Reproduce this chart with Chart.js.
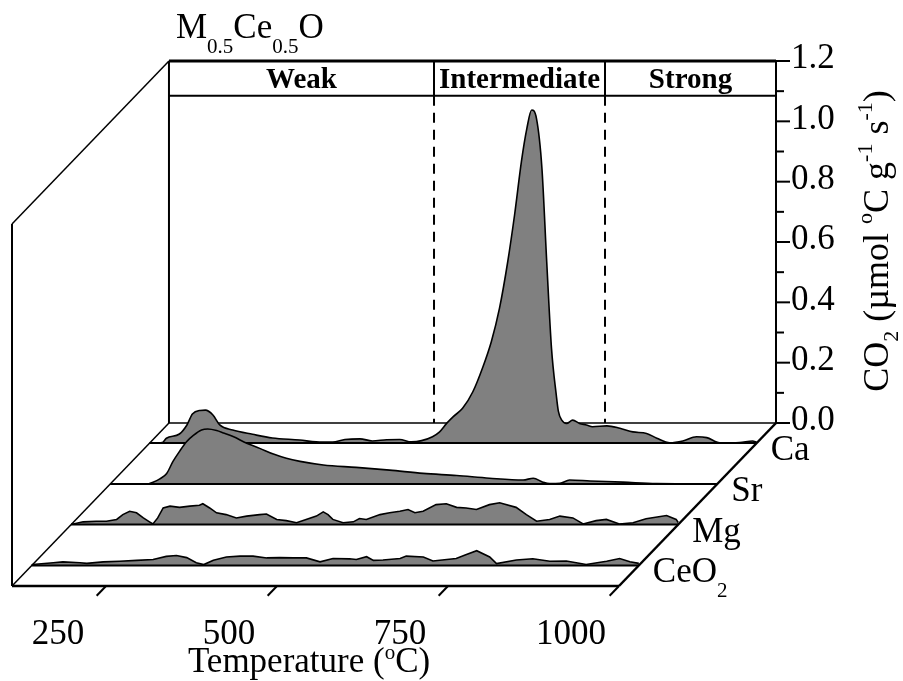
<!DOCTYPE html>
<html>
<head>
<meta charset="utf-8">
<script src="https://cdn.jsdelivr.net/npm/chart.js@4.4.1/dist/chart.umd.min.js"></script>
<style>
  body { margin: 0; background: #fff; }
  #wrap { width: 903px; height: 681px; position: relative; }
</style>
</head>
<body>
<div id="wrap"><canvas id="tpd"></canvas></div>
<script>
// CO2-TPD waterfall, M0.5Ce0.5O samples
const seriesNames = ['Ca', 'Sr', 'Mg', 'CeO2'];   // back row -> front row

const caT = [112.5, 131, 137, 156, 167, 175, 186, 194, 205, 215, 234, 263, 292, 332, 356, 380, 398, 420, 438, 459,
  478, 495, 510, 526, 536, 547, 556, 570, 585, 599, 612, 624, 636, 646, 656, 664, 671, 678, 686, 693,
  700, 707, 710, 715, 722, 731, 741, 751, 760, 781, 800, 819, 839, 854, 873, 892, 912, 927, 946, 975, 994, 1000];
const caV = [0, 0.002, 0.016, 0.03, 0.06, 0.096, 0.108, 0.109, 0.093, 0.06, 0.043, 0.029, 0.017, 0.01, 0.004, 0.003, 0.012, 0.014, 0.007, 0.011,
  0.012, 0.004, 0.008, 0.021, 0.036, 0.066, 0.087, 0.115, 0.17, 0.248, 0.336, 0.447, 0.601, 0.756, 0.933, 1.043, 1.104, 1.076, 0.911, 0.601,
  0.314, 0.159, 0.106, 0.076, 0.065, 0.076, 0.065, 0.06, 0.054, 0.057, 0.049, 0.037, 0.032, 0.016, 0.001, 0.007, 0.021, 0.018, 0.001, 0.002, 0.007, 0.003];

const srT = [112.5, 165, 175, 185, 195, 204, 214, 224, 234, 246, 255, 268, 278, 292, 312, 331, 351, 370, 390, 424,
  472, 521, 570, 619, 667, 716, 731, 745, 755, 770, 784, 814, 862, 911, 1000];
const srV = [0, 0, 0.006, 0.017, 0.035, 0.074, 0.109, 0.14, 0.161, 0.179, 0.182, 0.177, 0.169, 0.157, 0.135, 0.118, 0.099, 0.085, 0.075, 0.063,
  0.055, 0.046, 0.035, 0.028, 0.019, 0.013, 0.019, 0.006, 0.001, 0.002, 0.013, 0.01, 0.006, 0.001, 0];

const mgT = [112.5, 130, 149, 164, 179, 188, 198, 208, 218, 227, 232, 239, 247, 257, 271, 286, 300, 305, 315, 325,
  339, 354, 369, 388, 398, 413, 427, 442, 456, 471, 481, 488, 495, 510, 525, 534, 544, 564, 578, 593,
  605, 615, 627, 646, 661, 676, 690, 705, 724, 739, 744, 763, 778, 793, 812, 827, 846, 861, 880, 895,
  914, 934, 953, 983, 997, 1000];
const mgV = [0, 0.009, 0.011, 0.011, 0.017, 0.033, 0.044, 0.039, 0.022, 0.009, 0.002, 0.022, 0.055, 0.061, 0.057, 0.061, 0.064, 0.069, 0.055, 0.039,
  0.033, 0.022, 0.028, 0.033, 0.035, 0.017, 0.013, 0.006, 0.017, 0.028, 0.042, 0.033, 0.017, 0.006, 0.009, 0.02, 0.017, 0.033, 0.039, 0.044,
  0.05, 0.039, 0.044, 0.066, 0.069, 0.057, 0.055, 0.05, 0.066, 0.072, 0.069, 0.057, 0.033, 0.011, 0.017, 0.028, 0.022, 0.002, 0.013, 0.017,
  0.002, 0.006, 0.019, 0.03, 0.017, 0.007];

const ceT = [112.5, 114, 144, 158, 183, 193, 217, 241, 266, 290, 309, 324, 339, 353, 364, 378, 397, 417, 436, 456,
  475, 495, 514, 534, 553, 577, 587, 602, 612, 626, 651, 660, 685, 699, 733, 748, 763, 782, 792, 821,
  845, 870, 894, 923, 953, 972, 987, 1000];
const ceV = [0, 0.003, 0.009, 0.012, 0.009, 0.007, 0.012, 0.014, 0.017, 0.02, 0.03, 0.033, 0.026, 0.009, 0.003, 0.017, 0.028, 0.031, 0.031, 0.025,
  0.026, 0.025, 0.025, 0.012, 0.023, 0.022, 0.02, 0.029, 0.017, 0.018, 0.023, 0.031, 0.028, 0.015, 0.023, 0.036, 0.049, 0.028, 0.006, 0.018,
  0.022, 0.014, 0.015, 0.003, 0.014, 0.023, 0.012, 0.007];

const xTicks = [250, 500, 750, 1000];
const yTicks = [0, 0.2, 0.4, 0.6, 0.8, 1.0, 1.2];
const regionNames = ['Weak', 'Intermediate', 'Strong'];
const regionEdges = [500, 750];

// geometry of the pseudo-3D box, in data units
const T_MIN = 112.5, T_MAX = 1000, V_MAX = 1.2;
const HEADER_V = 1.085;
const DEPTH_T = 229.5, DEPTH_V = 0.5403;       // shift from back wall to front edge
const layerDepth = [0.123, 0.374, 0.623, 0.874];

const SERIF = '"Liberation Serif", "Times New Roman", serif';
const font = (size, bold) => (bold ? 'bold ' : '') + size + 'px ' + SERIF;

const seriesT = [caT, srT, mgT, ceT];
const seriesV = [caV, srV, mgV, ceV];

const datasets = [];
seriesNames.forEach((name, i) => {
  const sT = layerDepth[i] * DEPTH_T, sV = layerDepth[i] * DEPTH_V;
  datasets.push({
    label: name + ' floor',
    data: [{ x: T_MIN - sT, y: -sV }, { x: T_MAX - sT, y: -sV }],
    borderColor: '#000', borderWidth: 2, fill: false,
    order: 20 - 2 * i
  });
  datasets.push({
    label: name,
    data: seriesT[i].map((t, j) => ({ x: t - sT, y: seriesV[i][j] - sV })),
    borderColor: '#000', borderWidth: 1.6,
    backgroundColor: '#808080',
    fill: { value: -sV },
    cubicInterpolationMode: i < 2 ? 'monotone' : 'default',
    tension: 0,
    order: 21 - 2 * i
  });
});

// point of the box: temperature, value, depth (0 = back wall, 1 = front edge)
function pt(chart, t, v, f) {
  return [chart.scales.x.getPixelForValue(t - f * DEPTH_T),
          chart.scales.y.getPixelForValue(v - f * DEPTH_V)];
}
function line(ctx, a, b, w, dash) {
  ctx.beginPath();
  ctx.lineWidth = w;
  ctx.setLineDash(dash || []);
  ctx.moveTo(a[0], a[1]);
  ctx.lineTo(b[0], b[1]);
  ctx.stroke();
  ctx.setLineDash([]);
}
function richText(ctx, parts, x, y, align) {
  let w = 0;
  parts.forEach(p => { ctx.font = p.font; w += ctx.measureText(p.t).width; });
  let cx = align === 'center' ? x - w / 2 : x;
  ctx.textAlign = 'left';
  ctx.textBaseline = 'alphabetic';
  parts.forEach(p => {
    ctx.font = p.font;
    ctx.fillText(p.t, cx, y + (p.dy || 0));
    cx += ctx.measureText(p.t).width;
  });
}

const boxPlugin = {
  id: 'box',
  beforeDatasetsDraw(chart) {
    const ctx = chart.ctx;
    ctx.save();
    ctx.strokeStyle = '#000';
    ctx.fillStyle = '#000';
    // back wall
    line(ctx, pt(chart, T_MIN, 0, 0), pt(chart, T_MAX, 0, 0), 1.5);
    line(ctx, pt(chart, T_MIN, 0, 0), pt(chart, T_MIN, V_MAX, 0), 2);
    line(ctx, pt(chart, T_MIN, V_MAX, 0), pt(chart, T_MAX, V_MAX, 0), 3);
    line(ctx, pt(chart, T_MIN, HEADER_V, 0), pt(chart, T_MAX, HEADER_V, 0), 2);
    regionEdges.forEach(t => {
      line(ctx, pt(chart, t, V_MAX, 0), pt(chart, t, HEADER_V, 0), 2);
      line(ctx, pt(chart, t, HEADER_V, 0), pt(chart, t, 0, 0), 2, [10, 7]);
    });
    // region captions
    const bounds = [T_MIN, ...regionEdges, T_MAX];
    ctx.font = font(29, true);
    ctx.textAlign = 'center';
    ctx.textBaseline = 'alphabetic';
    regionNames.forEach((n, i) => {
      const a = pt(chart, bounds[i], HEADER_V, 0), b = pt(chart, bounds[i + 1], HEADER_V, 0);
      ctx.fillText(n, (a[0] + b[0]) / 2, a[1] - 8);
    });
    // right value axis
    line(ctx, pt(chart, T_MAX, 0, 0), pt(chart, T_MAX, V_MAX, 0), 2);
    ctx.font = font(35);
    ctx.textAlign = 'left';
    ctx.textBaseline = 'middle';
    for (let k = 0; k <= 12; k++) {
      const p = pt(chart, T_MAX, k / 10, 0);
      line(ctx, p, [p[0] + (k % 2 === 0 ? 14 : 8), p[1]], 2);
    }
    yTicks.forEach(v => {
      const p = pt(chart, T_MAX, v, 0);
      ctx.fillText(v.toFixed(1), p[0] + 15, p[1] - 2);
    });
    // title
    const tl = pt(chart, T_MIN, V_MAX, 0);
    richText(ctx, [
      { t: 'M', font: font(35) }, { t: '0.5', font: font(21), dy: 15 },
      { t: 'Ce', font: font(35) }, { t: '0.5', font: font(21), dy: 15 },
      { t: 'O', font: font(35) }
    ], tl[0] + 7, tl[1] - 23, 'left');
    ctx.restore();
  },
  afterDatasetsDraw(chart) {
    const ctx = chart.ctx;
    ctx.save();
    ctx.strokeStyle = '#000';
    ctx.fillStyle = '#000';
    // side wall and floor edges
    line(ctx, pt(chart, T_MIN, V_MAX, 0), pt(chart, T_MIN, V_MAX, 1), 1.5);
    line(ctx, pt(chart, T_MIN, V_MAX, 1), pt(chart, T_MIN, 0, 1), 2);
    line(ctx, pt(chart, T_MIN, 0, 0), pt(chart, T_MIN, 0, 1), 1.5);
    line(ctx, pt(chart, T_MIN, 0, 1), pt(chart, T_MAX, 0, 1), 2.5);
    line(ctx, pt(chart, T_MAX, 0, 0), pt(chart, T_MAX, 0, 1), 2.5);
    // temperature ticks (slanted along depth)
    ctx.font = font(35);
    ctx.textAlign = 'center';
    ctx.textBaseline = 'alphabetic';
    xTicks.forEach(t => {
      const a = pt(chart, t, 0, 1), b = pt(chart, t, 0, 1.06);
      line(ctx, a, b, 2);
      ctx.fillText(String(t), a[0] - 48, a[1] + 58);
    });
    const x0 = pt(chart, 500, 0, 1);
    richText(ctx, [
      { t: 'Temperature (', font: font(35) },
      { t: 'o', font: font(21), dy: -13 },
      { t: 'C)', font: font(35) }
    ], x0[0] + 32, x0[1] + 86, 'center');
    // row names
    seriesNames.forEach((n, i) => {
      const e = pt(chart, T_MAX, 0, layerDepth[i]);
      const parts = n === 'CeO2'
        ? [{ t: 'CeO', font: font(35) }, { t: '2', font: font(21), dy: 15 }]
        : [{ t: n, font: font(35) }];
      richText(ctx, parts, e[0] + 14, e[1] + 17, 'left');
    });
    // value axis title, rotated
    const ax = pt(chart, T_MAX, 0.6, 0);
    ctx.translate(ax[0] + 112, ax[1] - 1);
    ctx.rotate(-Math.PI / 2);
    richText(ctx, [
      { t: 'CO', font: font(36) }, { t: '2', font: font(22), dy: 10 },
      { t: ' (\u00B5mol ', font: font(36) }, { t: 'o', font: font(22), dy: -16 },
      { t: 'C g', font: font(36) }, { t: '-1', font: font(22), dy: -16 },
      { t: ' s', font: font(36) }, { t: '-1', font: font(22), dy: -16 },
      { t: ')', font: font(36) }
    ], 0, 0, 'center');
    ctx.restore();
  }
};

new Chart(document.getElementById('tpd'), {
  type: 'line',
  data: { datasets },
  options: {
    responsive: true,
    maintainAspectRatio: false,
    animation: false,
    layout: { padding: { left: 12, right: 127, top: 61, bottom: 95 } },
    elements: { point: { radius: 0 } },
    scales: {
      x: { type: 'linear', min: T_MIN - DEPTH_T, max: T_MAX, display: false },
      y: { type: 'linear', min: -DEPTH_V, max: V_MAX, display: false }
    },
    plugins: { legend: { display: false }, tooltip: { enabled: false } }
  },
  plugins: [boxPlugin]
});
</script>
</body>
</html>
